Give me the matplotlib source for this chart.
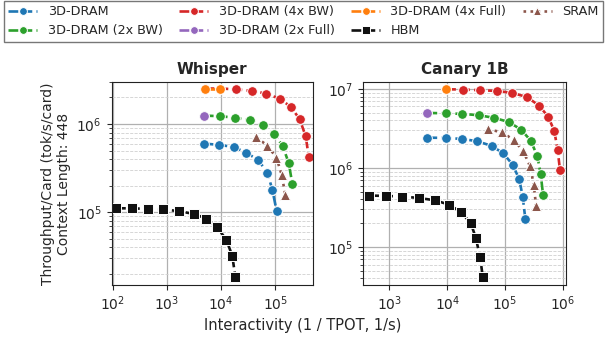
import numpy as np
import matplotlib
matplotlib.use('Agg')
import matplotlib.pyplot as plt

# ---- Whisper ----
w_hbm_x = [115, 224, 444, 865, 1640, 3140, 5320, 8360, 12500, 16100, 18300]
w_hbm_y = [111e3, 111e3, 109e3, 108e3, 103e3, 96e3, 85e3, 68e3, 49e3, 32e3, 18.6e3]
w_base_x = [4750, 9100, 17000, 29000, 48700, 71400, 88300, 106000]
w_base_y = [601e3, 580e3, 550e3, 474e3, 390e3, 280e3, 180e3, 103e3]
w_2bw_x = [4800, 9500, 17800, 33700, 59300, 94700, 137000, 177000, 207000]
w_2bw_y = [1.245e6, 1.225e6, 1.18e6, 1.10e6, 967e3, 774e3, 564e3, 361e3, 207e3]
w_4bw_x = [4950, 9660, 19100, 36600, 68400, 120000, 193000, 282000, 365000, 414000]
w_4bw_y = [2.52e6, 2.52e6, 2.47e6, 2.37e6, 2.21e6, 1.93e6, 1.57e6, 1.13e6, 723e3, 422e3]
w_2full_x = [4800]
w_2full_y = [1.245e6]
w_4full_x = [4950, 9660]
w_4full_y = [2.52e6, 2.52e6]
w_sram_x = [44800, 71400, 105000, 131000, 154000]
w_sram_y = [705e3, 570e3, 416e3, 266e3, 155e3]

# ---- Canary 1B ----
c_hbm_x = [446, 866, 1680, 3270, 6100, 10800, 17400, 25600, 31300, 37100, 41300]
c_hbm_y = [448e3, 443e3, 435e3, 417e3, 390e3, 344e3, 275e3, 201e3, 130e3, 74.6e3, 41.7e3]
c_base_x = [4540, 9460, 18100, 33300, 59100, 93800, 136000, 177000, 203000, 225000]
c_base_y = [2.42e6, 2.40e6, 2.33e6, 2.18e6, 1.90e6, 1.53e6, 1.10e6, 719e3, 430e3, 229e3]
c_2bw_x = [4540, 9460, 18300, 35600, 65600, 116000, 190000, 279000, 364000, 416000, 456000]
c_2bw_y = [4.97e6, 4.92e6, 4.83e6, 4.65e6, 4.30e6, 3.82e6, 3.06e6, 2.22e6, 1.41e6, 832e3, 460e3]
c_4bw_x = [9570, 19100, 37000, 72100, 134000, 238000, 389000, 564000, 716000, 819000, 898000]
c_4bw_y = [9.91e6, 9.83e6, 9.63e6, 9.44e6, 8.90e6, 7.92e6, 6.17e6, 4.43e6, 2.92e6, 1.67e6, 936e3]
c_2full_x = [4540]
c_2full_y = [4.97e6]
c_4full_x = [9570]
c_4full_y = [9.91e6]
c_sram_x = [50400, 89100, 144000, 208000, 272000, 315000, 345000]
c_sram_y = [3.09e6, 2.83e6, 2.24e6, 1.63e6, 1.05e6, 617e3, 334e3]

TXT = '#262626'
plt.rcParams['font.size'] = 10
plt.rcParams['text.color'] = TXT
plt.rcParams['axes.labelcolor'] = TXT
plt.rcParams['xtick.color'] = TXT
plt.rcParams['ytick.color'] = TXT

fig = plt.figure(figsize=(6.06, 3.41), dpi=100)
ax1 = fig.add_axes([0.184, 0.164, 0.332, 0.596])
ax2 = fig.add_axes([0.599, 0.164, 0.335, 0.596])

def draw(ax, d):
    kw = dict(linestyle='--', linewidth=1.9, marker='o', markersize=7,
              markeredgecolor='white', markeredgewidth=0.7)
    ax.plot(d['base'][0], d['base'][1], color='tab:blue', label='3D-DRAM', **kw)
    ax.plot(d['2bw'][0], d['2bw'][1], color='tab:green', label='3D-DRAM (2x BW)', **kw)
    ax.plot(d['4bw'][0], d['4bw'][1], color='tab:red', label='3D-DRAM (4x BW)', **kw)
    ax.plot(d['2full'][0], d['2full'][1], color='tab:purple', label='3D-DRAM (2x Full)', **kw)
    ax.plot(d['4full'][0], d['4full'][1], color='tab:orange', label='3D-DRAM (4x Full)', **kw)
    ax.plot(d['hbm'][0], d['hbm'][1], color='#111111', linestyle='--', linewidth=1.9,
            marker='s', markersize=7, markeredgecolor='white', markeredgewidth=0.7,
            label='HBM')
    ax.plot(d['sram'][0], d['sram'][1], color='#8c564b', linestyle=':', linewidth=1.9,
            marker='^', markersize=7, markeredgecolor='white', markeredgewidth=0.7,
            label='SRAM')
    ax.set_xscale('log')
    ax.set_yscale('log')
    ax.grid(True, which='major', color='#b0b0b0', linewidth=0.9)
    ax.grid(True, which='minor', axis='y', color='#d0d0d0', linestyle='--', linewidth=0.6)
    ax.xaxis.set_minor_locator(matplotlib.ticker.NullLocator())
    for s in ax.spines.values():
        s.set_color('#222222')

draw(ax1, {'base': (w_base_x, w_base_y), '2bw': (w_2bw_x, w_2bw_y), '4bw': (w_4bw_x, w_4bw_y),
           '2full': (w_2full_x, w_2full_y), '4full': (w_4full_x, w_4full_y),
           'hbm': (w_hbm_x, w_hbm_y), 'sram': (w_sram_x, w_sram_y)})
draw(ax2, {'base': (c_base_x, c_base_y), '2bw': (c_2bw_x, c_2bw_y), '4bw': (c_4bw_x, c_4bw_y),
           '2full': (c_2full_x, c_2full_y), '4full': (c_4full_x, c_4full_y),
           'hbm': (c_hbm_x, c_hbm_y), 'sram': (c_sram_x, c_sram_y)})

ax1.set_xlim(95, 4.9e5)
ax1.set_ylim(1.5e4, 3.0e6)
ax2.set_xlim(348, 1.14e6)
ax2.set_ylim(3.3e4, 1.23e7)

ax1.set_title('Whisper', fontweight='bold', fontsize=11)
ax2.set_title('Canary 1B', fontweight='bold', fontsize=11)
ax1.set_ylabel('Throughput/Card (tok/s/card)\nContext Length: 448')
fig.text(0.5, 0.045, 'Interactivity (1 / TPOT, 1/s)', ha='center', va='center', fontsize=10.5)

handles, labels = ax1.get_legend_handles_labels()
leg = fig.legend(handles, labels, loc='upper left', bbox_to_anchor=(4 / 606, 1 - 1 / 341, 599 / 606, 0),
                 mode='expand', ncol=4, fancybox=False, edgecolor='#555555',
                 fontsize=9.2, handlelength=2.27, handletextpad=0.8, markerscale=0.8,
                 labelspacing=0.45, borderaxespad=0.0, borderpad=0.35)
leg.get_frame().set_linewidth(1.0)

fig.savefig('out.png', dpi=100)
